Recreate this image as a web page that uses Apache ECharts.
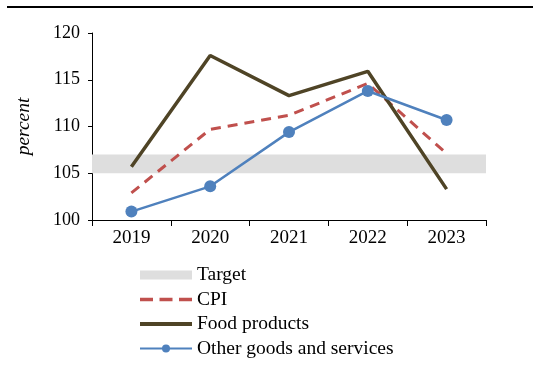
<!DOCTYPE html>
<html>
<head>
<meta charset="utf-8">
<script src="https://cdn.jsdelivr.net/npm/echarts@6/dist/echarts.min.js"></script>
<style>
  html, body { margin: 0; padding: 0; background: #fff; }
  #chart { width: 533px; height: 372px; }
</style>
</head>
<body>
<div id="chart"></div>
<script>
// Price indices by year (previous year = 100)
const years = ['2019', '2020', '2021', '2022', '2023'];
const cpi = [102.9, 109.7, 111.2, 114.6, 107.1];
const foodProducts = [105.7, 117.6, 113.3, 115.9, 103.3];
const otherGoods = [100.9, 103.6, 109.4, 113.8, 110.7];
const targetBand = [105, 107];
const yTicks = { min: 100, max: 120, interval: 5 };

const FONT = '"Liberation Serif", "Times New Roman", serif';
const chart = echarts.init(document.getElementById('chart'), null, { renderer: 'canvas' });

// Legend icons for the plain and dashed lines (no marker)
const solidIcon = 'path://M0,0h52v4h-52z';
const dashedIcon = 'path://M0,0h13v3.5h-13z M19.5,0h13v3.5h-13z M39,0h13v3.5h-13z';

chart.setOption({
  animation: false,
  backgroundColor: '#fff',
  textStyle: { fontFamily: FONT, color: '#000' },
  graphic: [{
    type: 'line',
    shape: { x1: 7, y1: 7, x2: 533, y2: 7 },
    style: { stroke: '#000', lineWidth: 2 }
  }],
  grid: { left: 92, right: 47, top: 33, bottom: 152 },
  legend: {
    orient: 'vertical',
    left: 134,
    top: 260,
    itemWidth: 52,
    itemHeight: 10,
    itemGap: 4.5,
    textStyle: { fontFamily: FONT, fontSize: 19.5, color: '#000' },
    data: [
      { name: 'Target', icon: 'path://M0,0h52v9h-52z', itemStyle: { color: '#dedede' } },
      { name: 'CPI', icon: dashedIcon },
      { name: 'Food products', icon: solidIcon },
      { name: 'Other goods and services' }
    ]
  },
  xAxis: {
    type: 'category',
    data: years,
    boundaryGap: true,
    axisLine: { lineStyle: { color: '#000', width: 1 } },
    axisTick: { show: true, length: 6, lineStyle: { color: '#000' } },
    axisLabel: { fontFamily: FONT, fontSize: 19, color: '#000', margin: 9 }
  },
  yAxis: {
    type: 'value',
    min: yTicks.min,
    max: yTicks.max,
    interval: yTicks.interval,
    name: 'percent',
    nameLocation: 'middle',
    nameGap: 58,
    nameRotate: 90,
    nameTextStyle: { fontFamily: FONT, fontSize: 19.5, fontStyle: 'italic', color: '#000' },
    axisLine: { show: true, lineStyle: { color: '#000', width: 1 } },
    axisTick: { show: true, length: 4, lineStyle: { color: '#000' } },
    axisLabel: { fontFamily: FONT, fontSize: 18, color: '#000', margin: 12 },
    splitLine: { show: false }
  },
  series: [
    {
      name: 'Target',
      type: 'line',
      data: [],
      itemStyle: { color: '#dedede' },
      markArea: {
        silent: true,
        itemStyle: { color: '#dedede' },
        data: [[{ yAxis: targetBand[0] }, { yAxis: targetBand[1] }]]
      }
    },
    {
      name: 'CPI',
      type: 'line',
      data: cpi,
      symbol: 'none',
      itemStyle: { color: '#c0504d' },
      lineStyle: { color: '#c0504d', width: 3, type: [10, 7] },
      z: 3
    },
    {
      name: 'Food products',
      type: 'line',
      data: foodProducts,
      symbol: 'none',
      itemStyle: { color: '#4f4426' },
      lineStyle: { color: '#4f4426', width: 3.5 },
      z: 4
    },
    {
      name: 'Other goods and services',
      type: 'line',
      data: otherGoods,
      symbol: 'circle',
      symbolSize: 12,
      itemStyle: { color: '#4f81bd' },
      lineStyle: { color: '#4f81bd', width: 2.5 },
      z: 5
    }
  ]
});
</script>
</body>
</html>
